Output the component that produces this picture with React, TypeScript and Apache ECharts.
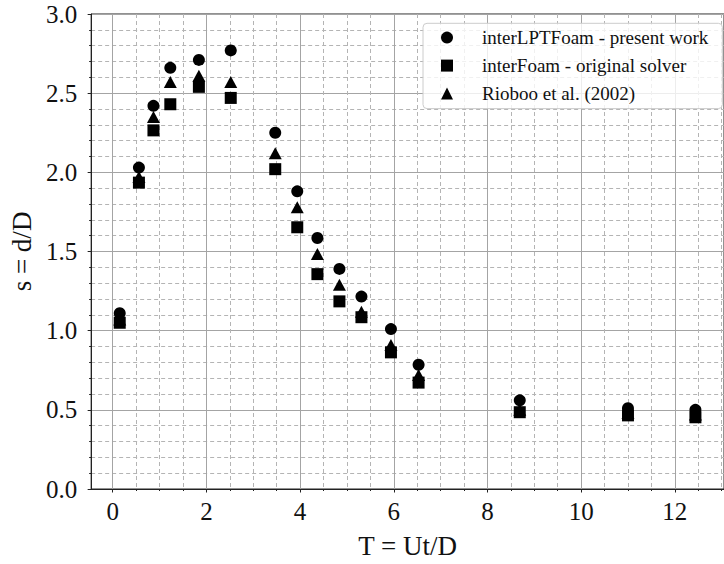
import React, { useEffect, useRef } from "react";
import * as echarts from "echarts";

const tValues = [0.15, 0.56, 0.87, 1.23, 1.84, 2.52, 3.47, 3.94, 4.37, 4.84, 5.31, 5.94, 6.53, 8.69, 11.0, 12.44];
const presentWork = [1.11, 2.03, 2.42, 2.66, 2.71, 2.77, 2.25, 1.88, 1.585, 1.39, 1.215, 1.01, 0.785, 0.56, 0.51, 0.5];
const originalSolver = [1.05, 1.935, 2.265, 2.43, 2.54, 2.47, 2.02, 1.653, 1.357, 1.185, 1.085, 0.863, 0.672, 0.485, 0.465, 0.453];
const rioboo = [1.07, 1.97, 2.35, 2.57, 2.61, 2.57, 2.12, 1.78, 1.485, 1.29, 1.12, 0.91, 0.72, 0.5, 0.48, 0.47];

const seriesNames = ["interLPTFoam - present work", "interFoam - original solver", "Rioboo et al. (2002)"];
const seriesSymbols = ["circle", "rect", "triangle"];
const xTickLabels = [0, 2, 4, 6, 8, 10, 12];

const FONT = "Liberation Serif";

export default function App() {
  const ref = useRef<HTMLDivElement>(null);
  useEffect(() => {
    document.body.style.margin = "0";
    if (!ref.current) return;
    const chart = echarts.init(ref.current, null, { renderer: "svg" });
    const pairs = (ys: number[]) => tValues.map((t, i) => [t, ys[i]]);
    const seriesData = [presentWork, originalSolver, rioboo];
    const sizes: any[] = [12, 12, [13, 12]];
    chart.setOption({
      animation: false,
      backgroundColor: "#fff",
      textStyle: { fontFamily: FONT, color: "#111" },
      grid: {
        left: 88,
        top: 14,
        right: -8,
        bottom: 69,
        show: true,
        borderColor: "#222",
        borderWidth: 1,
        backgroundColor: "transparent",
      },
      legend: {
        orient: "vertical",
        left: 423,
        top: 23.3,
        padding: [4.8, 14, 5.5, 18],
        itemGap: 9,
        itemWidth: 12,
        itemHeight: 12,
        backgroundColor: "rgba(255,255,255,0.8)",
        borderColor: "#cccccc",
        borderWidth: 1,
        borderRadius: 4,
        formatter: (name: string) => `{t|${name}}`,
        textStyle: {
          fontFamily: FONT,
          fontSize: 19,
          color: "#111",
          rich: {
            t: { fontFamily: FONT, fontSize: 19, color: "#111", lineHeight: 20, padding: [0, 0, 0, 24] },
          },
        },
        data: seriesNames.map((n, i) => ({ name: n, icon: seriesSymbols[i], itemStyle: { color: "#000" } })),
      },
      xAxis: {
        type: "value",
        min: -0.46,
        max: 13.05,
        splitNumber: 6,
        name: "T = Ut/D",
        nameLocation: "middle",
        nameGap: 43,
        nameTextStyle: { fontFamily: FONT, fontSize: 27, color: "#111" },
        axisLine: { show: true, onZero: false, lineStyle: { color: "#222", width: 1 } },
        axisTick: { show: true, length: 3.5, lineStyle: { color: "#222" }, customValues: xTickLabels },
        minorTick: { show: true, splitNumber: 4, length: 2, lineStyle: { color: "#222" } },
        axisLabel: {
          fontFamily: FONT,
          fontSize: 25,
          color: "#111",
          margin: 10,
          customValues: xTickLabels,
        },
        splitLine: { show: true, lineStyle: { color: "#a4a4a4", width: 1 } },
        minorSplitLine: { show: true, lineStyle: { color: "#b4b4b4", width: 1, type: [4, 3] } },
      },
      yAxis: {
        type: "value",
        min: 0,
        max: 3,
        interval: 0.5,
        name: "s = d/D",
        nameLocation: "middle",
        nameGap: 51,
        nameTextStyle: { fontFamily: FONT, fontSize: 27, color: "#111" },
        axisLine: { show: true, onZero: false, lineStyle: { color: "#222", width: 1 } },
        axisTick: { show: true, length: 3.5, lineStyle: { color: "#222" } },
        minorTick: { show: true, splitNumber: 5, length: 2, lineStyle: { color: "#222" } },
        axisLabel: {
          fontFamily: FONT,
          fontSize: 25,
          color: "#111",
          margin: 14,
          formatter: (v: number) => v.toFixed(1),
        },
        splitLine: { show: true, lineStyle: { color: "#a4a4a4", width: 1 } },
        minorSplitLine: { show: true, lineStyle: { color: "#b4b4b4", width: 1, type: [4, 3] } },
      },
      series: seriesNames.map((n, i) => ({
        name: n,
        type: "scatter",
        symbol: seriesSymbols[i],
        symbolSize: sizes[i],
        itemStyle: { color: "#000", opacity: 1 },
        data: pairs(seriesData[i]),
        z: 3 + i,
      })),
    });
    return () => chart.dispose();
  }, []);
  return <div ref={ref} style={{ width: 724, height: 564 }} />;
}
